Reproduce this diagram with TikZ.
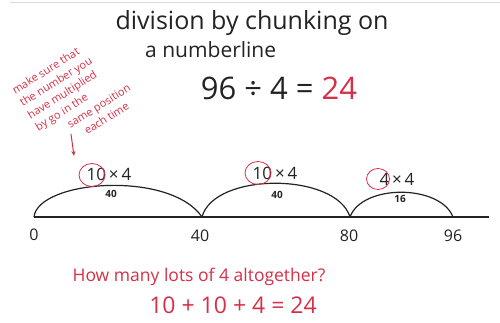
\documentclass[tikz,border=0pt]{standalone}
\usepackage{fontspec}
\setmainfont{Open Sans}
\usetikzlibrary{arrows.meta,shapes.geometric}
\definecolor{pen}{RGB}{35,35,35}
\definecolor{redpen}{RGB}{214,48,72}
\begin{document}
\begin{tikzpicture}[x=1pt,y=-1pt,
  blacktxt/.style={text=pen, inner sep=0pt},
  redtxt/.style={text=redpen, inner sep=0pt},
  numlbl/.style={blacktxt, font=\fontsize{16}{18}\selectfont},
  chunk/.style={blacktxt, font=\fontsize{17}{19}\selectfont},
  small/.style={blacktxt, font=\fontsize{10}{11}\selectfont\bfseries},
  ring/.style={draw=redpen, line width=0.8pt, ellipse, minimum width=26pt, minimum height=23pt, inner sep=0pt},
  line/.style={draw=pen, line width=1.2pt}
]
\useasboundingbox (0,0) rectangle (500,323);
\fill[white] (0,0) rectangle (500,323);
\draw[black!15, line width=1pt] (10,3) -- (500,3);

% title
\node[blacktxt, font=\fontsize{25}{27}\selectfont] (t1) at (252,23) {division by chunking on};
\node[blacktxt, font=\fontsize{21}{23}\selectfont, anchor=west] (t2) at (145,50) {a numberline};
\node[blacktxt, font=\fontsize{31}{33}\selectfont] (eq) at (279,88) {96 ÷ 4 = \textcolor{redpen}{24}};

% note
\node[redtxt, font=\fontsize{11}{14.5}\selectfont, rotate=32, align=left] (note) at (75,95)
 {make sure that\\the number you\\have multiplied\\by go in the\\\hspace*{2.6em}same position\\\hspace*{3.6em}each time};
\coordinate (a1) at (71,134);
\coordinate (a2) at (74,156);
\draw[redpen, line width=1pt, -{Stealth[length=5pt,width=4pt]}] (a1) -- (a2);

% number line
\coordinate (n0) at (34,217);
\coordinate (n40) at (202,217);
\coordinate (n80) at (350,217);
\coordinate (n96) at (453,217);
\coordinate (nend) at (489,217);
\draw[line] (n0) -- (nend);
\draw[line] (n0) .. controls (38,180) and (170,170) .. (n40);
\draw[line] (n40) .. controls (214,172) and (336,172) .. (n80);
\draw[line] (n80) .. controls (362,184) and (440,184) .. (n96);

\node[numlbl] (l0) at (34,235) {0};
\node[numlbl] (l40) at (200,236) {40};
\node[numlbl] (l80) at (349,236) {80};
\node[numlbl] (l96) at (453,236) {96};

% chunks
\node[chunk] (c1) at (109,174) {10\,×\,4};
\node[ring] (r1) at (92,175) {};
\node[small] (s1) at (111,194) {40};

\node[chunk] (c2) at (275,173) {10\,×\,4};
\node[ring] (r2) at (258,173) {};
\node[small] (s2) at (277,195) {40};

\node[chunk] (c3) at (397,179) {4\,×\,4};
\node[ring, minimum width=23pt, minimum height=21pt] (r3) at (378,179) {};
\node[small] (s3) at (400,199) {16};

% bottom
\node[redtxt, font=\fontsize{17.5}{19}\selectfont] (q) at (199,277) {How many lots of 4 altogether?};
\node[redtxt, font=\fontsize{23}{25}\selectfont] (sum) at (233,305) {10 + 10 + 4 = 24};
\end{tikzpicture}
\end{document}
